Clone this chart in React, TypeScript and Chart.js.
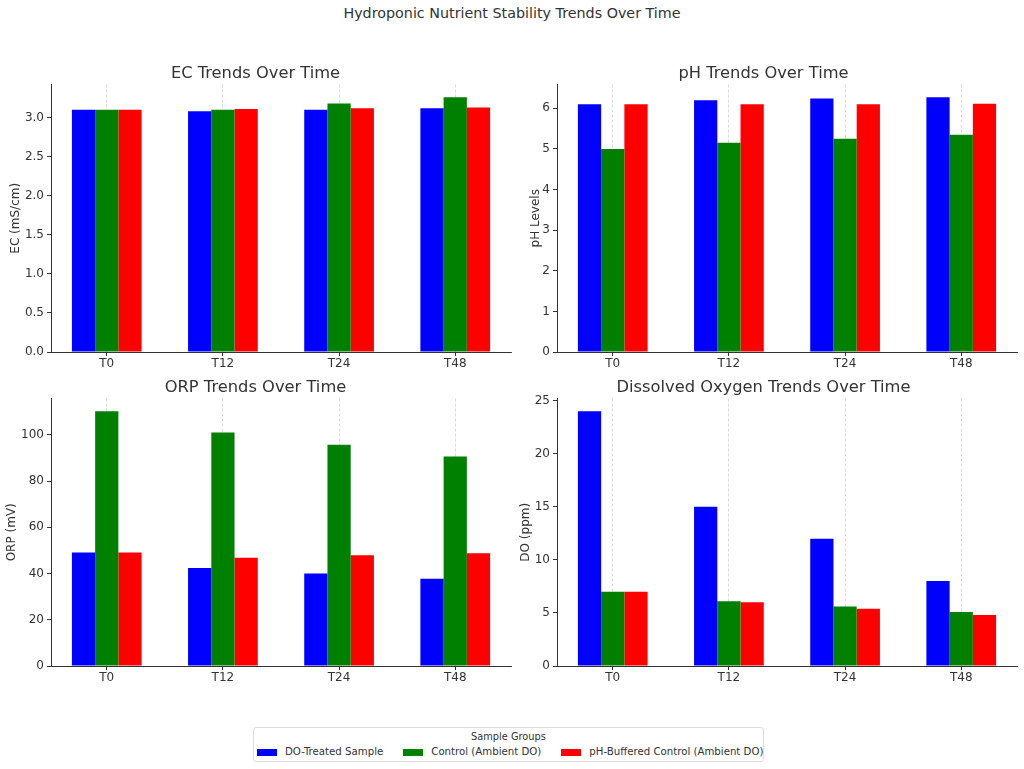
import React, { useEffect, useRef } from "react";
import { Chart, registerables } from "chart.js";

Chart.register(...registerables);

const categories = ["T0", "T12", "T24", "T48"];
const seriesNames = ["DO-Treated Sample", "Control (Ambient DO)", "pH-Buffered Control (Ambient DO)"];
const seriesColors = ["#0000ff", "#008000", "#ff0000"];

const ecDoTreated = [3.1, 3.08, 3.1, 3.12];
const ecControl = [3.1, 3.1, 3.18, 3.26];
const ecBuffered = [3.1, 3.11, 3.12, 3.13];

const phDoTreated = [6.1, 6.2, 6.24, 6.27];
const phControl = [5.0, 5.15, 5.25, 5.35];
const phBuffered = [6.1, 6.1, 6.1, 6.11];

const orpDoTreated = [49.1, 42.4, 40.0, 37.7];
const orpControl = [110.2, 101.0, 95.7, 90.6];
const orpBuffered = [49.1, 46.8, 47.9, 48.8];

const doDoTreated = [24.0, 15.0, 12.0, 8.0];
const doControl = [7.0, 6.1, 5.6, 5.1];
const doBuffered = [7.0, 6.0, 5.4, 4.8];

const ecTicks = [0, 0.5, 1.0, 1.5, 2.0, 2.5, 3.0];
const phTicks = [0, 1, 2, 3, 4, 5, 6];
const orpTicks = [0, 20, 40, 60, 80, 100];
const doTicks = [0, 5, 10, 15, 20, 25];

const FONT = "'DejaVu Sans', sans-serif";
const TEXT = "#333333";

Chart.defaults.font.family = FONT;
Chart.defaults.color = TEXT;

type PanelSpec = {
  title: string;
  yLabel: string;
  series: number[][];
  ticks: number[];
  decimals: number;
  yAxisWidth: number;
  padRight: number;
  yTitlePad: number;
};

function buildConfig(p: PanelSpec): any {
  const all = p.series.flat();
  const yMax = Math.max(...all) * 1.05;
  return {
    type: "bar",
    data: {
      datasets: p.series.map((vals, si) => ({
        label: seriesNames[si],
        data: vals.map((v, i) => ({ x: i, y: v })),
        backgroundColor: seriesColors[si],
        borderWidth: 0,
        categoryPercentage: 0.6,
        barPercentage: 1.0,
      })),
    },
    options: {
      animation: false,
      responsive: false,
      events: [],
      layout: { padding: { left: 0, right: p.padRight, top: 0, bottom: 0 } },
      plugins: {
        legend: { display: false },
        tooltip: { enabled: false },
        title: {
          display: true,
          text: p.title,
          color: TEXT,
          font: { size: 16.3, weight: "normal", family: FONT },
          padding: { top: 14, bottom: 1 },
        },
      },
      scales: {
        x: {
          type: "linear",
          min: -0.48,
          max: 3.48,
          offset: false,
          z: 1,
          afterBuildTicks: (s: any) => {
            s.ticks = categories.map((_, i) => ({ value: i }));
          },
          afterFit: (s: any) => {
            s.height = 28;
          },
          ticks: {
            callback: (v: any) => categories[Math.round(v)] ?? "",
            font: { size: 12, family: FONT },
            color: TEXT,
            padding: 1,
            maxRotation: 0,
            autoSkip: false,
          },
          grid: {
            display: true,
            offset: false,
            drawOnChartArea: true,
            color: "rgba(175,175,175,0.6)",
            lineWidth: 0.8,
            drawTicks: true,
            tickLength: 4,
            tickColor: TEXT,
            tickWidth: 1,
          },
          border: { display: true, color: TEXT, width: 1, dash: [3, 2] },
        },
        y: {
          min: 0,
          max: yMax,
          afterBuildTicks: (s: any) => {
            s.ticks = p.ticks.map((v) => ({ value: v }));
          },
          afterFit: (s: any) => {
            s.width = p.yAxisWidth;
          },
          ticks: {
            callback: (v: any) => Number(v).toFixed(p.decimals),
            font: { size: 12, family: FONT },
            color: TEXT,
            padding: 3,
          },
          grid: {
            display: true,
            drawOnChartArea: false,
            drawTicks: true,
            tickLength: 4,
            tickColor: TEXT,
            tickWidth: 1,
          },
          border: { display: true, color: TEXT, width: 1 },
          title: {
            display: true,
            text: p.yLabel,
            color: TEXT,
            font: { size: 12, family: FONT },
            padding: { top: p.yTitlePad, bottom: 0 },
          },
        },
      },
    },
  };
}

function Panel(props: { left: number; top: number; width: number; height: number; spec: PanelSpec }) {
  const ref = useRef<HTMLCanvasElement>(null);
  useEffect(() => {
    const chart = new Chart(ref.current as HTMLCanvasElement, buildConfig(props.spec));
    return () => chart.destroy();
  }, []);
  return (
    <div style={{ position: "absolute", left: props.left, top: props.top, width: props.width, height: props.height }}>
      <canvas
        ref={ref}
        width={props.width}
        height={props.height}
        style={{ width: props.width, height: props.height, display: "block" }}
      />
    </div>
  );
}

export default function App() {
  const ecSpec: PanelSpec = {
    title: "EC Trends Over Time",
    yLabel: "EC (mS/cm)",
    series: [ecDoTreated, ecControl, ecBuffered],
    ticks: ecTicks,
    decimals: 1,
    yAxisWidth: 51,
    padRight: 9,
    yTitlePad: 8.8,
  };
  const phSpec: PanelSpec = {
    title: "pH Trends Over Time",
    yLabel: "pH Levels",
    series: [phDoTreated, phControl, phBuffered],
    ticks: phTicks,
    decimals: 0,
    yAxisWidth: 47,
    padRight: 7,
    yTitlePad: 18.8,
  };
  const orpSpec: PanelSpec = {
    title: "ORP Trends Over Time",
    yLabel: "ORP (mV)",
    series: [orpDoTreated, orpControl, orpBuffered],
    ticks: orpTicks,
    decimals: 0,
    yAxisWidth: 51,
    padRight: 9,
    yTitlePad: 4.8,
  };
  const doSpec: PanelSpec = {
    title: "Dissolved Oxygen Trends Over Time",
    yLabel: "DO (ppm)",
    series: [doDoTreated, doControl, doBuffered],
    ticks: doTicks,
    decimals: 0,
    yAxisWidth: 47,
    padRight: 7,
    yTitlePad: 8.8,
  };

  return (
    <div
      style={{
        position: "absolute",
        left: 0,
        top: 0,
        width: 1024,
        height: 769,
        background: "#ffffff",
        overflow: "hidden",
        fontFamily: FONT,
        color: TEXT,
      }}
    >
      <div
        style={{
          position: "absolute",
          left: 0,
          top: 4,
          width: 1024,
          textAlign: "center",
          fontSize: 14.3,
          lineHeight: "18px",
        }}
      >
        Hydroponic Nutrient Stability Trends Over Time
      </div>
      <Panel left={0} top={50} width={520} height={330} spec={ecSpec} />
      <Panel left={510} top={50} width={514} height={330} spec={phSpec} />
      <Panel left={0} top={364} width={520} height={330} spec={orpSpec} />
      <Panel left={510} top={364} width={514} height={330} spec={doSpec} />
      <div
        style={{
          position: "absolute",
          left: 253,
          top: 727,
          width: 511,
          height: 35,
          boxSizing: "border-box",
          border: "1px solid #dddddd",
          borderRadius: 3,
          background: "#ffffff",
        }}
      >
        <div style={{ textAlign: "center", fontSize: 9.8, lineHeight: "12px", marginTop: 3 }}>Sample Groups</div>
        <div style={{ display: "flex", alignItems: "center", marginLeft: 3, marginTop: 3 }}>
          {seriesNames.map((name, i) => (
            <div key={name} style={{ display: "flex", alignItems: "center", marginRight: 20 }}>
              <div style={{ width: 20, height: 7, background: seriesColors[i], marginRight: 8 }} />
              <span style={{ fontSize: 10.2, lineHeight: "12px", whiteSpace: "nowrap" }}>{name}</span>
            </div>
          ))}
        </div>
      </div>
    </div>
  );
}
